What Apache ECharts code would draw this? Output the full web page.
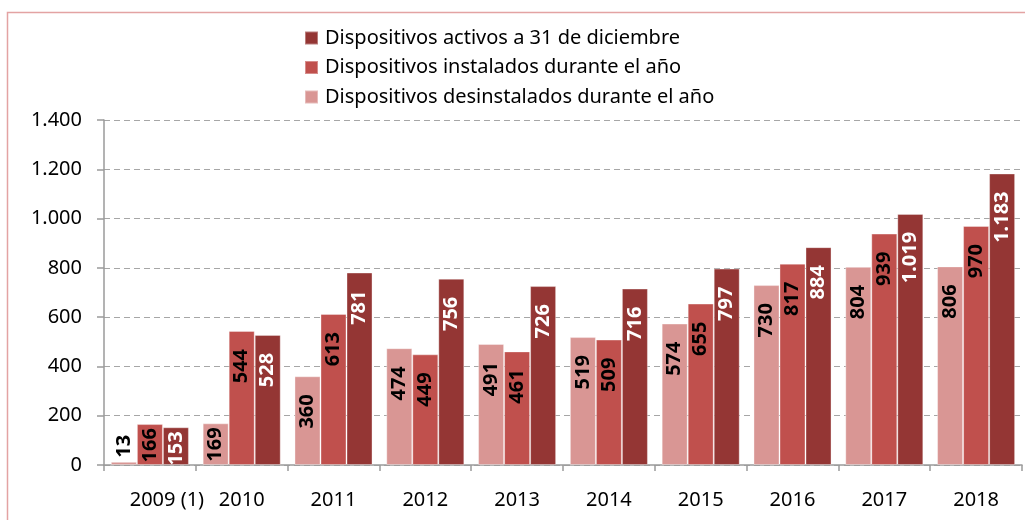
<!DOCTYPE html>
<html>
<head>
<meta charset="utf-8">
<script src="https://cdn.jsdelivr.net/npm/echarts@6/dist/echarts.min.js"></script>
<style>
  html, body { margin: 0; padding: 0; background: #fff; }
  #main { width: 1025px; height: 520px; }
</style>
</head>
<body>
<div id="main"></div>
<script>
var categories = ["2009 (1)", "2010", "2011", "2012", "2013", "2014", "2015", "2016", "2017", "2018"];
var desinstalados = [13, 169, 360, 474, 491, 519, 574, 730, 804, 806];
var instalados = [166, 544, 613, 449, 461, 509, 655, 817, 939, 970];
var activos = [153, 528, 781, 756, 726, 716, 797, 884, 1019, 1183];
var yTicks = [0, 200, 400, 600, 800, 1000, 1200, 1400];

var FONT = "Noto Sans";

var fmt = (v) => String(v).replace(/\B(?=(\d{3})+(?!\d))/g, ".");

// labels sit inside the top of the bar; short bars get them closer or above
var barData = (values) =>
  values.map((v) => {
    if (v < 100) {
      return { value: v, label: { position: "top", align: "left", distance: 4 } };
    }
    if (v < 200) {
      return { value: v, label: { distance: 4 } };
    }
    return v;
  });

var makeSeries = (name, values, color, textColor) => ({
  name: name,
  type: "bar",
  barGap: "0%",
  barCategoryGap: "15%",
  itemStyle: { color: color, borderColor: "rgba(255,255,255,0.35)", borderWidth: 1 },
  label: {
    show: true,
    position: "insideTop",
    rotate: 90,
    align: "right",
    verticalAlign: "middle",
    distance: 18,
    color: textColor,
    fontFamily: FONT,
    fontWeight: "bold",
    fontSize: 20,
    formatter: (p) => fmt(p.value),
  },
  data: barData(values),
});

var chart = echarts.init(document.getElementById("main"));

chart.setOption({
  backgroundColor: "#fff",
  animation: false,
  graphic: [
    {
      type: "rect",
      shape: { x: 7.5, y: 12.5, width: 1100, height: 600 },
      style: { fill: "none", stroke: "#e3a3a3", lineWidth: 1.5 },
      silent: true,
    },
  ],
  legend: {
    orient: "vertical",
    left: 299,
    top: 22,
    itemWidth: 13,
    itemHeight: 13,
    itemGap: 7.5,
    icon: "rect",
    data: [
      "Dispositivos activos a 31 de diciembre",
      "Dispositivos instalados durante el año",
      "Dispositivos desinstalados durante el año",
    ],
    textStyle: { fontFamily: FONT, fontSize: 20, color: "#000", lineHeight: 22, padding: [0, 0, 0, 2] },
  },
  grid: { left: 104, right: 3, top: 120, bottom: 55, containLabel: false },
  xAxis: {
    type: "category",
    data: categories.map((c, i) =>
      i === 0 ? { value: c, textStyle: { padding: [0, 0, 0, 34] } } : c
    ),
    axisLine: { lineStyle: { color: "#9a9a9a", width: 1.5 } },
    axisTick: { show: true, length: 6, lineStyle: { color: "#9a9a9a", width: 1.5 } },
    axisLabel: { interval: 0, fontFamily: FONT, fontSize: 20, color: "#000", margin: 25 },
  },
  yAxis: {
    type: "value",
    min: yTicks[0],
    max: yTicks[yTicks.length - 1],
    interval: 200,
    axisLine: { show: true, lineStyle: { color: "#9a9a9a", width: 1.5 } },
    axisTick: { show: true, length: 7, lineStyle: { color: "#9a9a9a", width: 1.5 } },
    axisLabel: { fontFamily: FONT, fontSize: 20, color: "#000", margin: 22, formatter: (v) => fmt(v) },
    splitLine: { lineStyle: { color: "#a6a6a6", type: [6, 4], width: 1.2 } },
  },
  series: [
    makeSeries("Dispositivos desinstalados durante el año", desinstalados, "#d99694", "#000"),
    makeSeries("Dispositivos instalados durante el año", instalados, "#c0504d", "#000"),
    makeSeries("Dispositivos activos a 31 de diciembre", activos, "#943634", "#fff"),
  ],
});
</script>
</body>
</html>
